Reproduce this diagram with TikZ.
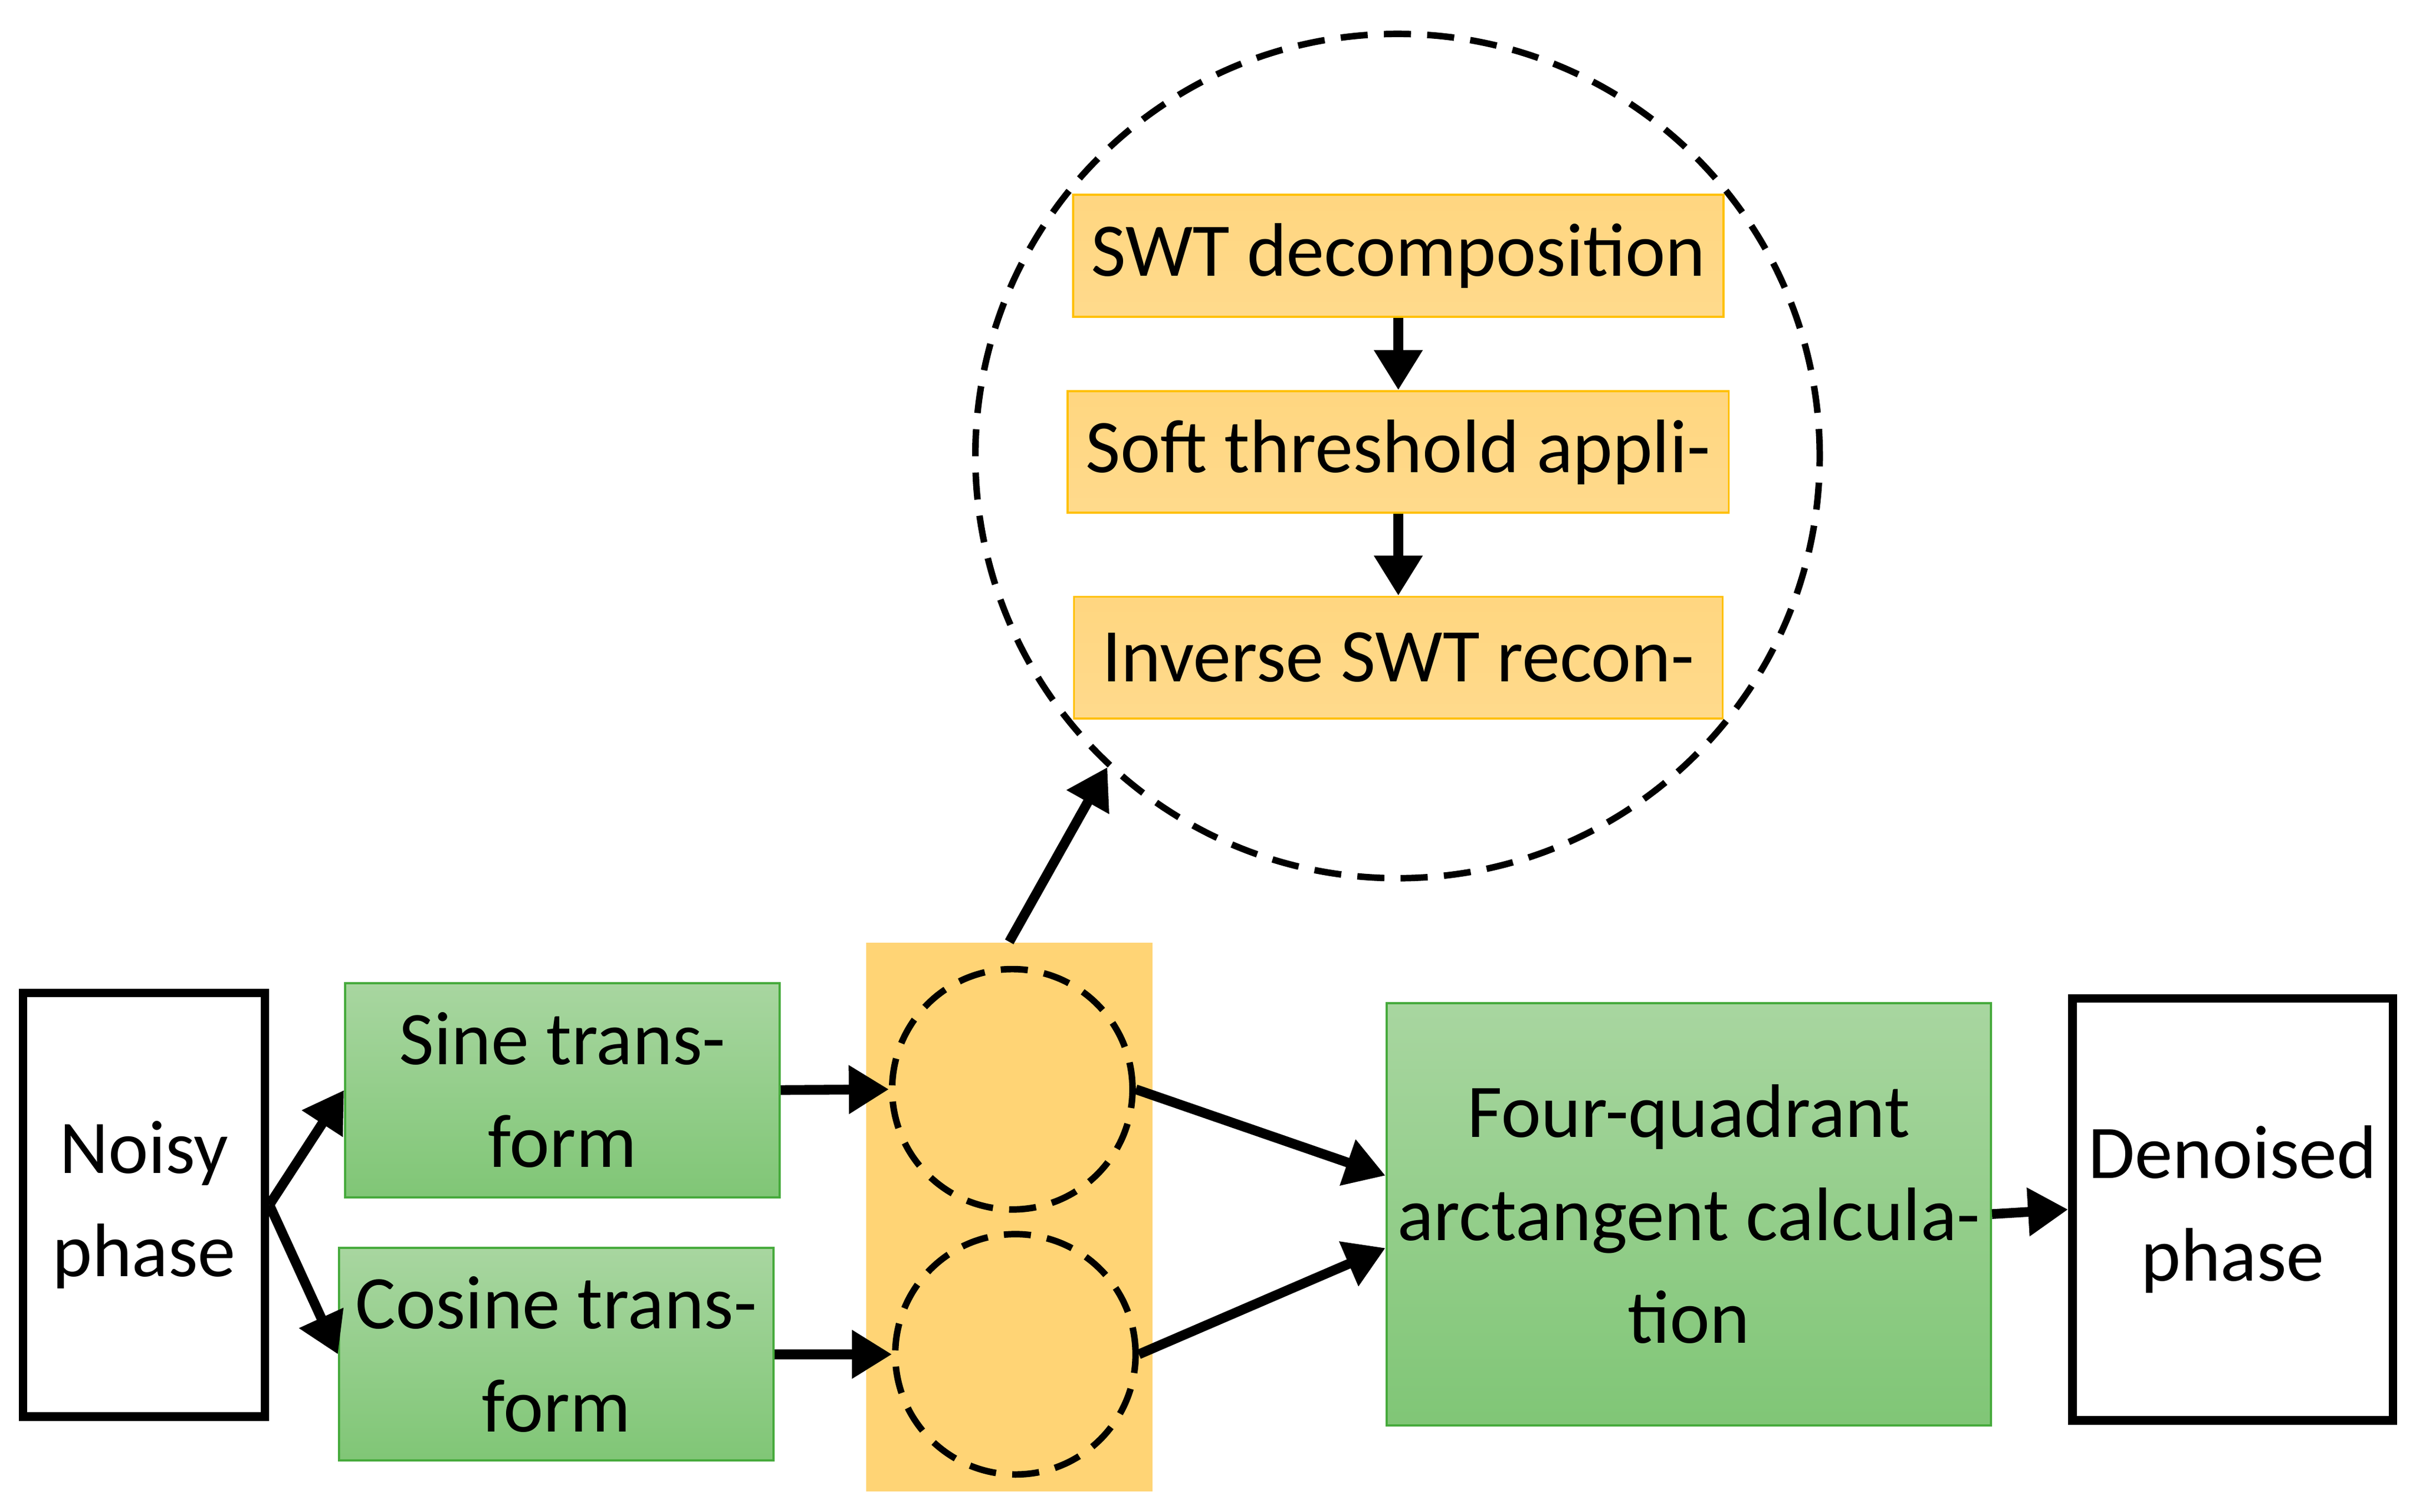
\documentclass[tikz,border=0pt]{standalone}
\usepackage{fontspec}
\setmainfont{Carlito}
\usetikzlibrary{positioning,arrows.meta}
\definecolor{gtop}{RGB}{168,214,160}
\definecolor{gbot}{RGB}{128,198,118}
\definecolor{gdraw}{RGB}{70,170,60}
\definecolor{otop}{RGB}{255,214,128}
\definecolor{obot}{RGB}{255,218,140}
\definecolor{odraw}{RGB}{255,192,0}
\definecolor{oback}{RGB}{255,212,117}
\tikzstyle{wbox}=[rectangle, draw=black, line width=1.6pt, fill=white, align=center, inner sep=2pt, font=\fontsize{14}{19}\selectfont]
\tikzstyle{gbox}=[rectangle, draw=gdraw, thin, top color=gtop, bottom color=gbot, align=center, inner sep=2pt, font=\fontsize{14}{19}\selectfont]
\tikzstyle{obox}=[rectangle, draw=odraw, thin, top color=otop, bottom color=obot, minimum width=4.21cm, minimum height=0.79cm, font=\fontsize{14}{17}\selectfont]
\tikzstyle{dcirc}=[circle, draw=black, dashed, line width=1.2pt, dash pattern=on 5pt off 3pt]
\tikzstyle{arr}=[-{Triangle[length=2.6mm,width=3mm]}, line width=1.8pt]

\begin{document}
\begin{tikzpicture}
\useasboundingbox (0,0) rectangle (15.68,9.81);

% inputs and transforms
\node (noisy) [wbox, minimum width=1.57cm, minimum height=2.75cm] at (0.935,1.99) {Noisy\\phase};
\node (sine) [gbox, minimum width=2.82cm, minimum height=1.39cm] at (3.65,2.735) {Sine trans-\\form};
\node (cosine) [gbox, minimum width=2.82cm, minimum height=1.38cm] at (3.61,1.02) {Cosine trans-\\form};

% denoising block
\node (oback) [rectangle, fill=oback, minimum width=1.86cm, minimum height=3.56cm] at (6.55,1.91) {};
\node (csin) [dcirc, minimum size=1.56cm] at (6.57,2.74) {};
\node (ccos) [dcirc, minimum size=1.56cm] at (6.59,1.02) {};

% output
\node (four) [gbox, minimum width=3.78cm, minimum height=2.74cm] at (10.96,1.93) {Four-quadrant\\arctangent calcula-\\tion};
\node (denoised) [wbox, minimum width=2.08cm, minimum height=2.74cm] at (14.49,1.96) {Denoised\\phase};

% SWT detail
\node (bigc) [dcirc, minimum size=5.48cm] at (9.07,6.85) {};
\node (swt1) [obox] at (9.075,8.15) {SWT decomposition};
\node (swt2) [obox, below=0.47cm of swt1] {Soft threshold appli-};
\node (swt3) [obox, below=0.53cm of swt2] {Inverse SWT recon-};

\draw[arr] (noisy.east) -- (sine.west);
\draw[arr] (noisy.east) -- (cosine.west);
\draw[arr] (sine.east) -- (csin.west);
\draw[arr] (cosine.east) -- (ccos.west);
\draw[arr] (csin.east) -- ([yshift=0.25cm]four.west);
\draw[arr] (ccos.east) -- ([yshift=-0.22cm]four.west);
\draw[arr] (four.east) -- (denoised.west);
\draw[arr] (oback.north) -- (bigc.227);
\draw[arr] (swt1.south) -- (swt2.north);
\draw[arr] (swt2.south) -- (swt3.north);
\end{tikzpicture}
\end{document}
